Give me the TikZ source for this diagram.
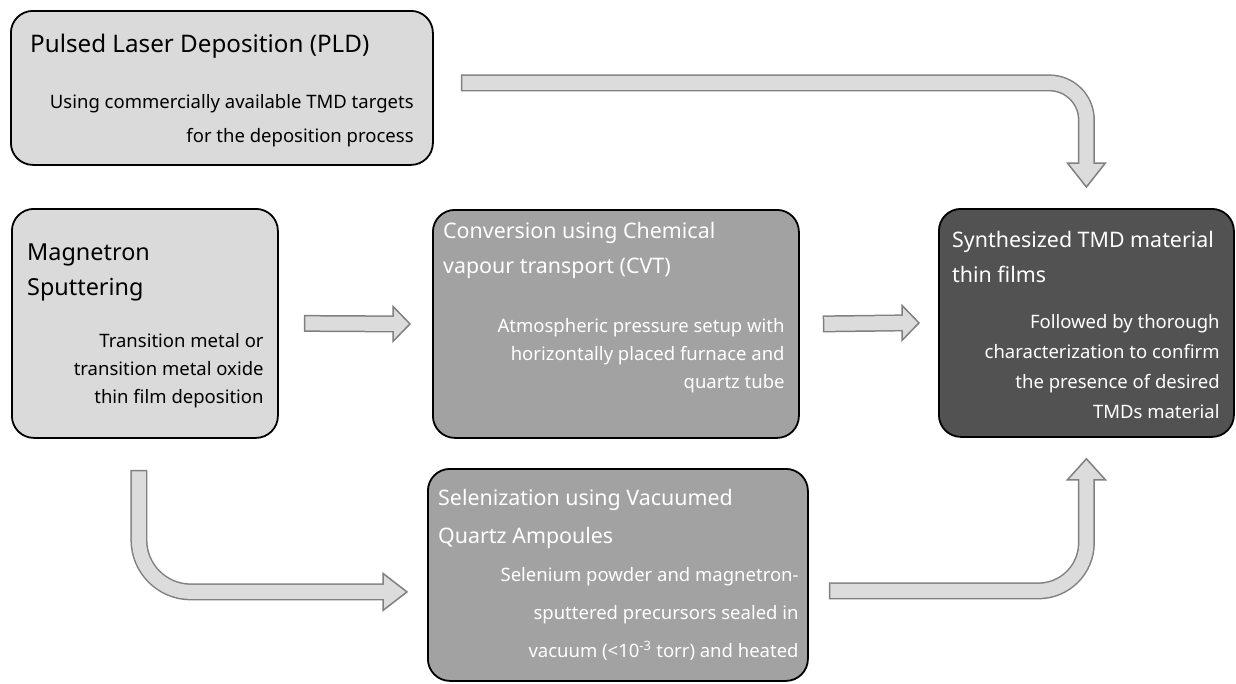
\documentclass[tikz,border=0pt]{standalone}
\usepackage{fontspec}
\setmainfont{Noto Sans}
\usetikzlibrary{positioning}
\usetikzlibrary{calc}
\definecolor{lgray}{HTML}{DADADA}
\definecolor{mgray}{HTML}{A2A2A2}
\definecolor{dgray}{HTML}{525252}
\definecolor{arrline}{HTML}{808080}
\definecolor{arrfill}{HTML}{DCDCDC}
\tikzset{box/.style = {draw=black, line width=1.8pt, rounded corners=22pt, anchor=north west, inner sep=0}}
\tikzset{title/.style 2 args = {font=\fontsize{#1}{#2}\selectfont, align=left, anchor=base west, inner sep=0}}
\tikzset{body/.style = {font=\fontsize{18.5}{#1}\selectfont, align=right, anchor=base east, inner sep=0}}
\tikzset{shaftout/.style = {draw=arrline, line width=17pt, rounded corners=#1}}
\tikzset{shaftin/.style = {draw=arrfill, line width=14pt, rounded corners=#1, shorten <=1.5pt, shorten >=-2pt}}
\tikzset{pics/tiphead/.style 2 args = {code={
  \filldraw [draw=arrline, fill=arrfill, line width=1.5pt, line join=miter] (0,0) -- (-#1,#2) -- (-#1,-#2) -- cycle;}}}

\begin{document}
\begin{tikzpicture}[x=1pt, y=-1pt]
      \useasboundingbox (0,0) rectangle (1236,683);
      % boxes
      \node [box, fill=lgray, minimum width=422, minimum height=154] (pld) at (10,10) {};
      \node [box, fill=lgray, minimum width=266, minimum height=229] (mag) at (11,208) {};
      \node [box, fill=mgray, minimum width=366, minimum height=228] (cvt) at (432,209) {};
      \node [box, fill=dgray, minimum width=295, minimum height=228] (res) at (938,208) {};
      \node [box, fill=mgray, minimum width=380, minimum height=212] (sel) at (427,468) {};
      % texts (anchored at the baseline of their last line)
      \node [title={24.2}{35}] (pldt) at ([shift={(20,42)}]pld.north west) {Pulsed Laser Deposition (PLD)};
      \node [body=34] (pldb) at ([shift={(-20,132)}]pld.north east) {Using commercially available TMD targets\\for the deposition process};
      \node [title={23.4}{35}] (magt) at ([shift={(16,87)}]mag.north west) {Magnetron\\Sputtering};
      \node [body=28] (magb) at ([shift={(-15,195)}]mag.north east) {Transition metal or\\transition metal oxide\\thin film deposition};
      \node [title={21.4}{35}, text=white] (cvtt) at ([shift={(11,64)}]cvt.north west) {Conversion using Chemical\\vapour transport (CVT)};
      \node [body=28, text=white] (cvtb) at ([shift={(-15,179)}]cvt.north east) {Atmospheric pressure setup with\\horizontally placed furnace and\\quartz tube};
      \node [title={21.4}{35}, text=white] (rest) at ([shift={(14,74)}]res.north west) {Synthesized TMD material\\thin films};
      \node [body=30, text=white] (resb) at ([shift={(-15,210)}]res.north east) {Followed by thorough\\characterization to confirm\\the presence of desired\\TMDs material};
      \node [title={21.4}{38}, text=white] (selt) at ([shift={(11,75)}]sel.north west) {Selenization using Vacuumed\\Quartz Ampoules};
      \node [body=38, text=white] (selb) at ([shift={(-10,189)}]sel.north east) {Selenium powder and magnetron-\\sputtered precursors sealed in\\vacuum (<10\textsuperscript{-3} torr) and heated};
      % arrow ends
      \coordinate (s1) at ([shift={(27,-5)}]pld.east);
      \coordinate (t1) at ([shift={(0,-21)}]res.north);
      \coordinate (s2) at ([shift={(25,0)}]mag.east);
      \coordinate (t2) at ([shift={(-22,0)}]cvt.west);
      \coordinate (s3) at ([shift={(23,0)}]cvt.east);
      \coordinate (t3) at ([shift={(-19,0)}]res.west);
      \coordinate (s4) at ([shift={(-6,31)}]mag.south);
      \coordinate (t4) at ([shift={(-20,17)}]sel.west);
      \coordinate (s5) at ([shift={(20,16)}]sel.east);
      \coordinate (t5) at ([shift={(0,21)}]res.south);
      % arrows
      \pic [rotate=-90] at (t1) {tiphead={24}{19}};
      \draw [shaftout=37] (s1) -| ([shift={(0,-24)}]t1);
      \draw [shaftin=37] (s1) -| ([shift={(0,-24)}]t1);
      \pic at (t2) {tiphead={17}{17.5}};
      \draw [shaftout=0] (s2) -- ([shift={(-17,0)}]t2);
      \draw [shaftin=0] (s2) -- ([shift={(-17,0)}]t2);
      \pic at (t3) {tiphead={17}{17.5}};
      \draw [shaftout=0] (s3) -- ([shift={(-17,0)}]t3);
      \draw [shaftin=0] (s3) -- ([shift={(-17,0)}]t3);
      \pic at (t4) {tiphead={24}{18.5}};
      \draw [shaftout=52] (s4) |- ([shift={(-24,0)}]t4);
      \draw [shaftin=52] (s4) |- ([shift={(-24,0)}]t4);
      \pic [rotate=90] at (t5) {tiphead={21}{19}};
      \draw [shaftout=48] (s5) -| ([shift={(0,21)}]t5);
      \draw [shaftin=48] (s5) -| ([shift={(0,21)}]t5);
    \end{tikzpicture}
\end{document}
